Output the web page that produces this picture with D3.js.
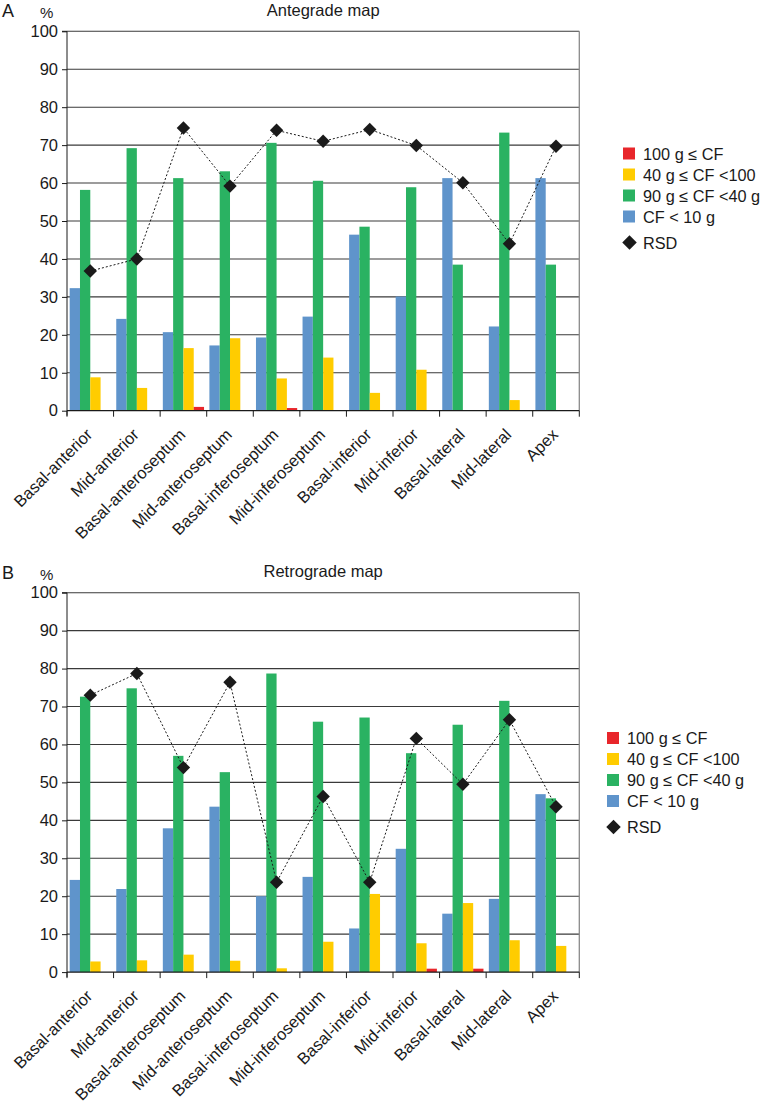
<!DOCTYPE html>
<html><head><meta charset="utf-8">
<script src="https://cdn.jsdelivr.net/npm/d3@7"></script>
<style>
body{margin:0;background:#fff;}
svg text{font-family:"Liberation Sans",Arial,Helvetica,sans-serif;fill:#1a1a1a;}
</style></head>
<body><svg id="chart" width="761" height="1104"></svg>
<script>
const categories = ["Basal-anterior","Mid-anterior","Basal-anteroseptum","Mid-anteroseptum","Basal-inferoseptum","Mid-inferoseptum","Basal-inferior","Mid-inferior","Basal-lateral","Mid-lateral","Apex"];
const legendLabels = ["100 g \u2264 CF","40 g \u2264 CF <100","90 g \u2264 CF <40 g","CF < 10 g"];
const yTicks = [0,10,20,30,40,50,60,70,80,90,100];

const anteBlue   = [32.3,24.2,20.7,17.2,19.3,24.8,46.4,30.1,61.3,22.2,61.3];
const anteGreen  = [58.2,69.2,61.3,63.1,70.6,60.6,48.5,58.9,38.5,73.3,38.5];
const anteYellow = [8.8,6.0,16.5,19.1,8.5,14.0,4.7,10.8,0,2.8,0];
const anteRed    = [0,0,1.0,0,0.7,0,0,0,0,0,0];
const anteRSD    = [36.8,40.0,74.5,59.2,73.9,71.0,74.1,69.9,60.1,44.0,69.7];

const retroBlue   = [24.3,21.9,37.9,43.6,20.0,25.1,11.5,32.5,15.4,19.3,46.9];
const retroGreen  = [72.6,74.8,57.0,52.7,78.7,66.0,67.1,57.7,65.2,71.5,45.8];
const retroYellow = [2.8,3.1,4.6,3.0,1.0,8.0,20.6,7.6,18.2,8.4,6.9];
const retroRed    = [0,0,0,0,0,0,0,0.9,0.9,0,0];
const retroRSD    = [73.0,78.7,53.9,76.4,23.7,46.3,23.7,61.6,49.5,66.5,43.6];

const colors = {blue:"#5f94cb", green:"#2ab262", yellow:"#ffcc00", red:"#e8262b"};

const svg = d3.select("#chart");

function panel(opts){
  const {top, letter, title, blue, green, yellow, red, rsd, legX, legY} = opts;
  const left = 67, right = 579.3, h = 379.4;
  const g = svg.append("g");
  const x = d3.scaleBand().domain(categories).range([left, right]).padding(0);
  const keys = ["blue","green","yellow","red"];
  const x1 = d3.scaleBand().domain(keys).range([0, x.bandwidth()]).paddingInner(0).paddingOuter(0.26);
  const y = d3.scaleLinear().domain([0,100]).range([top + h, top]);
  const vals = {blue, green, yellow, red};

  // gridlines
  g.append("g").selectAll("line").data(yTicks.filter(d=>d>0)).join("line")
    .attr("x1", left).attr("x2", right).attr("y1", d=>y(d)).attr("y2", d=>y(d))
    .attr("stroke", "#3a3a3a").attr("stroke-width", 1.1);
  // right border
  g.append("line").attr("x1", right).attr("x2", right).attr("y1", y(100)).attr("y2", y(0))
    .attr("stroke", "#8a8a8a").attr("stroke-width", 1.3);

  // bars
  categories.forEach((c, i) => {
    keys.forEach(k => {
      const v = vals[k][i];
      if (v <= 0) return;
      g.append("rect")
        .attr("x", x(c) + x1(k)).attr("width", x1.bandwidth())
        .attr("y", y(v)).attr("height", y(0) - y(v))
        .attr("fill", colors[k]);
    });
  });

  // y axis
  const yAxis = d3.axisLeft(y).tickValues(yTicks).tickSize(5).tickPadding(4);
  const ya = g.append("g").attr("transform", `translate(${left},0)`).call(yAxis);
  ya.select(".domain").attr("stroke", "#1a1a1a").attr("d", `M-5,${y(100)}H0V${y(0)+5}`);
  ya.selectAll(".tick line").attr("stroke", "#1a1a1a");
  ya.selectAll(".tick text").attr("font-size", 16.5).attr("fill", "#1a1a1a")
    .style("font-family", '"Liberation Sans",Arial,sans-serif');

  // x axis
  const xa = g.append("g").attr("transform", `translate(0,${y(0)})`);
  xa.append("line").attr("x1", left).attr("x2", right).attr("stroke", "#1a1a1a").attr("stroke-width", 1.2);
  const bounds = categories.map(c => x(c)).concat([right]);
  xa.selectAll("line.tk").data(bounds).join("line").attr("class","tk")
    .attr("x1", d=>d).attr("x2", d=>d).attr("y1", 0).attr("y2", 6)
    .attr("stroke", "#1a1a1a");
  xa.selectAll("text").data(categories).join("text")
    .attr("text-anchor", "end")
    .attr("font-size", 16.5)
    .attr("transform", d => `translate(${x(d) + x.bandwidth()/2 + 3},${25}) rotate(-45)`)
    .text(d => d);

  // RSD line
  const cx = i => x(categories[i]) + x.bandwidth()/2;
  const line = d3.line().x((d,i)=>cx(i)).y(d=>y(d));
  g.append("path").attr("d", line(rsd)).attr("fill","none")
    .attr("stroke","#1a1a1a").attr("stroke-width",1).attr("stroke-dasharray","2,2");
  const sym = d3.symbol().type(d3.symbolSquare).size(90);
  g.selectAll("path.rsd").data(rsd).join("path").attr("class","rsd")
    .attr("d", sym)
    .attr("transform", (d,i)=>`translate(${cx(i)},${y(d)}) rotate(45)`)
    .attr("fill","#1a1a1a");

  // titles
  svg.append("text").attr("x", 2).attr("y", top - 14).attr("font-size", 18).text(letter);
  svg.append("text").attr("x", 40).attr("y", top - 13).attr("font-size", 15).text("%");
  svg.append("text").attr("x", (left + right)/2).attr("y", top - 15.5).attr("text-anchor","middle")
    .attr("font-size", 16.5).text(title);

  // legend
  const legColors = [colors.red, colors.yellow, colors.green, colors.blue];
  legendLabels.forEach((lab, i) => {
    const cy = legY + i*21;
    svg.append("rect").attr("x", legX).attr("y", cy - 6).attr("width", 12).attr("height", 12)
      .attr("fill", legColors[i]);
    svg.append("text").attr("x", legX + 20).attr("y", cy + 6).attr("font-size", 16.3).text(lab);
  });
  const ry = legY + 4*21 + 5;
  svg.append("path").attr("d", d3.symbol().type(d3.symbolSquare).size(105))
    .attr("transform", `translate(${legX + 6.5},${ry}) rotate(45)`).attr("fill","#1a1a1a");
  svg.append("text").attr("x", legX + 20).attr("y", ry + 6).attr("font-size", 16.3).text("RSD");
}

panel({top:31.3, letter:"A", title:"Antegrade map", blue:anteBlue, green:anteGreen, yellow:anteYellow, red:anteRed, rsd:anteRSD, legX:623, legY:153.5});
panel({top:592.7, letter:"B", title:"Retrograde map", blue:retroBlue, green:retroGreen, yellow:retroYellow, red:retroRed, rsd:retroRSD, legX:607, legY:738});
</script></body></html>
